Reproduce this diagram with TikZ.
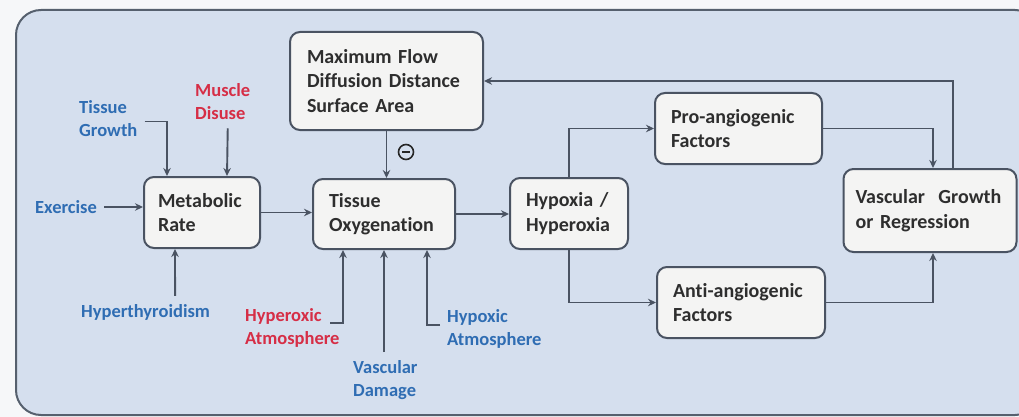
\documentclass[tikz,border=0pt]{standalone}
\usepackage{fontspec}
\setmainfont{Carlito}[Ligatures=NoCommon]
\usetikzlibrary{arrows.meta}
\definecolor{bgfill}{HTML}{D5DFEE}
\definecolor{outfill}{HTML}{F6F7F9}
\definecolor{boxfill}{HTML}{F4F4F3}
\definecolor{edge}{HTML}{4A5362}
\definecolor{frame}{HTML}{56606E}
\definecolor{lblue}{HTML}{2F6DB3}
\definecolor{lred}{HTML}{D62E46}
\definecolor{btext}{HTML}{2E2E2E}
\begin{document}
\begin{tikzpicture}[x=1pt,y=-1pt,
  box/.style={draw=edge, line width=2pt, fill=boxfill, rounded corners=10pt,
    align=left, font=\fontsize{20}{24.5}\selectfont\bfseries, text=btext, inner ysep=0pt},
  lbl/.style={font=\fontsize{18.5}{23}\selectfont\bfseries, align=left, inner sep=0pt, anchor=west},
  conn/.style={draw=edge, line width=1.9pt, -{Stealth[length=8pt,width=7.5pt]}},
  minussign/.style={circle, draw=black!85, line width=1.6pt, minimum size=15pt, inner sep=0pt}]
\useasboundingbox (0,0) rectangle (1019,417);
\fill[outfill] (0,0) rectangle (1019,417);
\draw[draw=frame, fill=bgfill, line width=2pt, rounded corners=25pt] (16,10) rectangle (1040,415);

% boxes
\node[box, minimum height=98pt, text width=159pt, inner xsep=17pt] (maxf) at (386.5,81) {Maximum Flow\\Diffusion Distance\\Surface Area};
\node[box, minimum height=71pt, text width=88pt, inner xsep=14pt] (met) at (202,212.5) {Metabolic\\Rate};
\node[box, minimum height=70pt, text width=110pt, inner xsep=16pt] (tiss) at (384,214) {Tissue\\Oxygenation};
\node[box, minimum height=71pt, text width=86pt, inner xsep=16pt] (hyp) at (569,213.5) {Hypoxia /\\Hyperoxia};
\node[box, minimum height=71pt, text width=135pt, inner xsep=16pt] (pro) at (738.5,128.5) {Pro-angiogenic\\Factors};
\node[box, minimum height=71pt, text width=136pt, inner xsep=16pt] (anti) at (741,302.5) {Anti-angiogenic\\Factors};
\node[box, minimum height=83pt, text width=149pt, inner xsep=12pt] (vasc) at (930,210.5) {Vascular~ Growth\\or Regression};

% labels
\node[lbl, text=lblue] (tg) at (79,118.5) {Tissue\\Growth};
\node[lbl, text=lred] (md) at (195,102) {Muscle\\Disuse};
\node[lbl, text=lblue] (ex) at (35,207) {Exercise};
\node[lbl, text=lblue] (ht) at (81,312) {Hyperthyroidism};
\node[lbl, text=lred] (hox) at (245,328) {Hyperoxic\\Atmosphere};
\node[lbl, text=lblue] (vd) at (353,380) {Vascular\\Damage};
\node[lbl, text=lblue] (hpx) at (447,329) {Hypoxic\\Atmosphere};

\coordinate (hoxs) at (330,323);
\coordinate (hpxs) at (440,325);

% minus sign
\node[minussign] (minus) at (406,152) {};
\draw[black!85, line width=1.6pt] ([xshift=-4pt]minus.center) -- ([xshift=4pt]minus.center);

% connectors
\draw[conn] ([xshift=7pt]ex.east) -- (ex.east -| met.west);
\draw[conn] ([xshift=7pt,yshift=-3pt]tg.east) -| ([xshift=-35pt]met.north);
\draw[conn] ([xshift=5pt,yshift=-8pt]md.south) -- ([xshift=25pt]met.north);
\draw[conn] ([xshift=29.5pt,yshift=8pt]ht.north) -- ([xshift=-27pt]met.south);
\draw[conn] (met.east) -- (met.east -| tiss.west);
\draw[conn] (maxf.south) -- (maxf.south |- tiss.north);
\draw[conn] (tiss.east) -- (tiss.east -| hyp.west);
\draw[conn] (hoxs) -| ([xshift=-41pt]tiss.south);
\draw[conn] ([yshift=8pt]vd.north -| tiss.south) -- (tiss.south);
\draw[conn] (hpxs) -| ([xshift=43pt]tiss.south);
\draw[conn] (hyp.north) |- (pro.west);
\draw[conn] (hyp.south) |- (anti.west);
\draw[conn] (pro.east) -| ([xshift=3pt]vasc.north);
\draw[conn] (anti.east) -| ([xshift=3pt]vasc.south);
\draw[conn] ([xshift=23pt]vasc.north) |- (maxf.east);
\end{tikzpicture}
\end{document}
